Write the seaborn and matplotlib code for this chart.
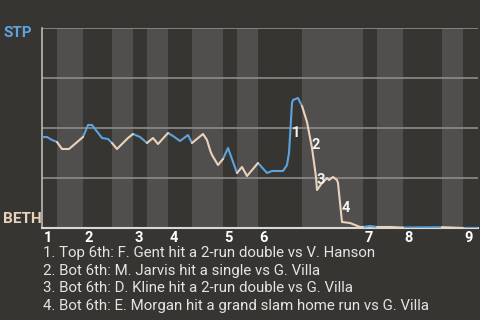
import matplotlib
matplotlib.use("Agg")
import matplotlib.pyplot as plt
import matplotlib.transforms as mtrans
import seaborn as sns
import pandas as pd

# ---- data ----
play = [0, 1, 2, 3, 4, 5.4, 8.2, 9.2, 10, 12, 13.2, 14, 15, 17.2, 18.2, 19.6, 21,
        22.2, 23.2, 25.2, 26.2, 27.6, 29.2, 30, 32.2, 33, 33.6, 34, 35.2, 36.2,
        37.2, 39, 40, 41, 43.2, 45, 46, 48.2, 49, 49.4, 50, 50.2, 51.2, 52, 53,
        54, 54.8, 55, 56, 57, 57.4, 58.2, 59, 59.2, 60, 61.6, 62.6, 63.6, 64.2,
        65.6, 67, 69.6, 72.2, 80, 84.2, 87.2]
stp_wp = [0.455, 0.455, 0.44, 0.43, 0.395, 0.395, 0.455, 0.515, 0.515, 0.45, 0.445,
          0.425, 0.395, 0.45, 0.47, 0.455, 0.425, 0.45, 0.42, 0.475, 0.46, 0.435,
          0.465, 0.425, 0.47, 0.44, 0.39, 0.365, 0.315, 0.345, 0.40, 0.275, 0.305,
          0.26, 0.325, 0.275, 0.285, 0.285, 0.315, 0.375, 0.625, 0.64, 0.65, 0.61,
          0.53, 0.40, 0.255, 0.19, 0.225, 0.25, 0.24, 0.255, 0.24, 0.225, 0.03,
          0.025, 0.015, 0.005, 0.005, 0.01, 0.005, 0.005, 0.002, 0.004, 0.0, 0.0]
# half-inning boundaries (top 1, bot 1, top 2, ... top 9, end)
half_bounds = [0, 3, 8.2, 14, 18.2, 21, 25.2, 30, 36.2, 39, 43.2, 52, 64.2, 67,
               72.2, 80, 84.2, 87.2]
inning_labels = ["1", "2", "3", "4", "5", "6", "7", "8", "9"]
event_labels = ["1", "2", "3", "4"]
event_x = [50.8, 54.8, 55.8, 60.8]
event_y = [0.475, 0.415, 0.24, 0.10]
notes = [
    "1. Top 6th: F. Gent hit a 2-run double vs V. Hanson",
    "2. Bot 6th: M. Jarvis hit a single vs G. Villa",
    "3. Bot 6th: D. Kline hit a 2-run double vs G. Villa",
    "4. Bot 6th: E. Morgan hit a grand slam home run vs G. Villa",
]

BG = "#363531"
BAND = "#504f4d"
BLUE = "#5ea3dc"
CREAM = "#ead3bd"

rows = []
for h in range(len(half_bounds) - 1):
    a, b = half_bounds[h], half_bounds[h + 1]
    side = "top" if h % 2 == 0 else "bot"
    for x, y in zip(play, stp_wp):
        if a - 1e-9 <= x <= b + 1e-9:
            rows.append({"play": x, "wp": y, "half": h, "side": side})
df = pd.DataFrame(rows)

sns.set_theme(style="dark")
plt.rcParams["font.family"] = ["Roboto", "DejaVu Sans"]

fig = plt.figure(figsize=(4.8, 3.2), dpi=100, facecolor=BG)
ax = fig.add_axes([42 / 480, 1 - 228 / 320, 436 / 480, 200 / 320])
ax.set_facecolor(BG)

for h in range(1, len(half_bounds) - 1, 2):
    ax.axvspan(half_bounds[h], half_bounds[h + 1], color=BAND, lw=0, zorder=0)

for g in [0.25, 0.5, 0.75, 1.0]:
    ax.axhline(g, color="#8c8c8a", lw=1.2, zorder=1)

sns.lineplot(data=df, x="play", y="wp", hue="side", units="half", estimator=None,
             palette={"top": BLUE, "bot": CREAM}, legend=False, lw=1.5, ax=ax,
             zorder=3)

ax.set_xlim(half_bounds[0], half_bounds[-1])
ax.set_ylim(0, 1)
ax.set_xticks([])
ax.set_yticks([])
ax.set_xlabel("")
ax.set_ylabel("")
for s in ["top", "right"]:
    ax.spines[s].set_visible(False)
ax.spines["left"].set_color("#b8b8b6")
ax.spines["left"].set_linewidth(1.2)
ax.spines["bottom"].set_color("#d8d8d8")
ax.spines["bottom"].set_linewidth(1.5)

trans = mtrans.blended_transform_factory(ax.transData, ax.transAxes)
for i, lab in enumerate(inning_labels):
    ax.text(half_bounds[2 * i] + 0.3, -0.052, lab, transform=trans, ha="left",
            va="center", color="white", fontsize=10.5, fontweight="bold")

for lab, x, y in zip(event_labels, event_x, event_y):
    ax.text(x, y, lab, ha="center", va="center", color="#f2f2f2", fontsize=10.5,
            fontweight="bold", zorder=4)

fig.text(3 / 480, 1 - 33 / 320, "STP", color=BLUE, fontsize=11, fontweight="bold",
         ha="left", va="center")
fig.text(3 / 480, 1 - 219 / 320, "BETH", color=CREAM, fontsize=11, fontweight="bold",
         ha="left", va="center")

for i, n in enumerate(notes):
    fig.text(43 / 480, 1 - (253 + 17.7 * i) / 320, n, color="#e4e4e4", fontsize=10.8,
             ha="left", va="center")

fig.savefig("out.png", dpi=100, facecolor=BG)
